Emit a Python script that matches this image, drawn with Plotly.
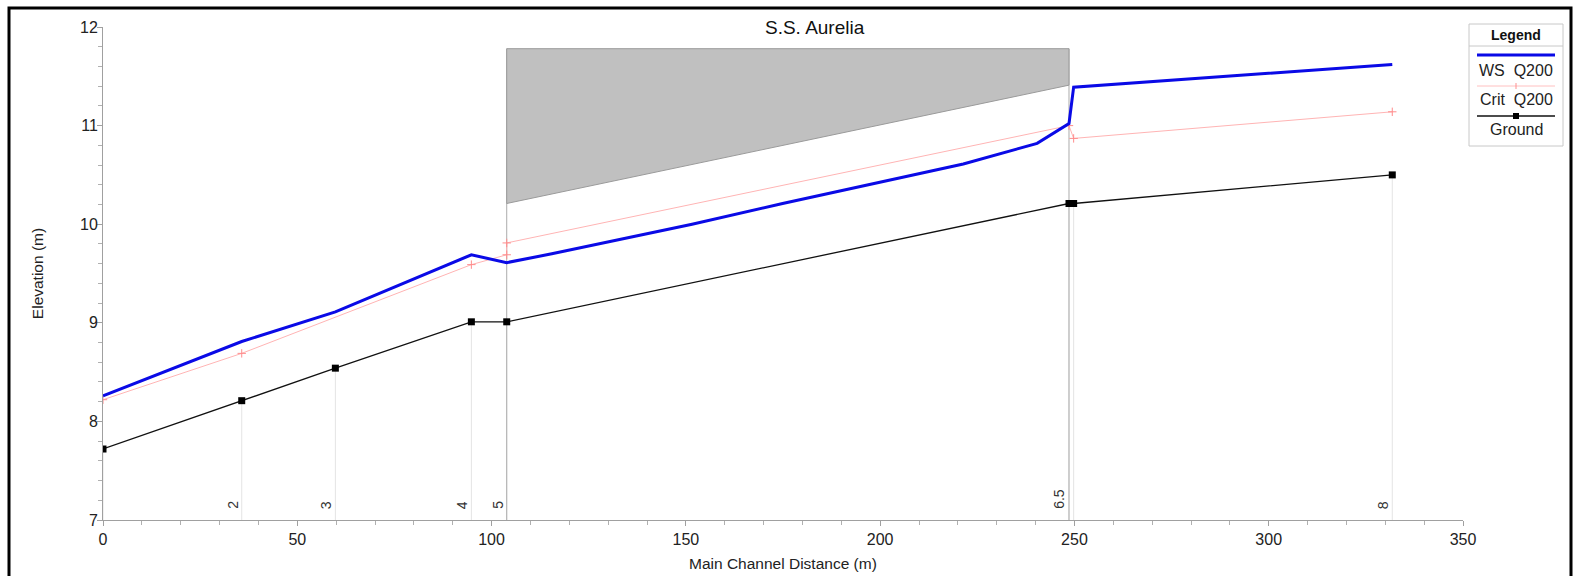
import plotly.graph_objects as go

# ---------------- data ----------------
ground_x = [0, 35.7, 59.8, 94.8, 103.9, 248.6, 249.8, 331.8]
ground_y = [7.72, 8.21, 8.54, 9.01, 9.01, 10.21, 10.21, 10.50]

ws_x = [0, 35.7, 59.8, 94.8, 103.9, 115.5, 151.6, 174.9, 221.4, 240.4, 248.6, 249.8, 331.8]
ws_y = [8.26, 8.81, 9.11, 9.69, 9.61, 9.70, 10.00, 10.21, 10.61, 10.82, 11.02, 11.39, 11.62]

crit_x = [0, 35.7, 94.8, 103.9, 103.9, 248.6, 249.8, 331.8]
crit_y = [8.22, 8.69, 9.59, 9.69, 9.81, 11.00, 10.87, 11.14]

bridge_x = [103.9, 248.6]
bridge_top = [11.78, 11.78]
bridge_low = [10.21, 11.41]

section_labels = ["2", "3", "4", "5", "6.5", "8"]
section_x = [35.7, 59.8, 94.8, 103.9, 248.3, 331.8]

title_text = "S.S. Aurelia"
x_title = "Main Channel Distance (m)"
y_title = "Elevation (m)"

# ---------------- layout geometry ----------------
# the page body margin is removed, so figure pixels == page pixels
FW, FH = 1574, 576
L, R, T, B = 103, 1463, 27, 520          # plot area in pixels
W, H = R - L, B - T


def px(xp):
    return (xp - L) / W


def py(yp):
    return (B - yp) / H


FONT = "Liberation Sans, Arial, sans-serif"

fig = go.Figure()

# faint section lines from axis to ground
vx, vy = [], []
for gx, gy in zip(ground_x, ground_y):
    vx += [gx, gx, None]
    vy += [7, gy, None]
fig.add_trace(go.Scatter(x=vx, y=vy, mode="lines",
                         line=dict(color="#e4e4e4", width=1),
                         hoverinfo="skip", showlegend=False))

# bridge abutment lines
ax_, ay_ = [], []
for bx, bt in zip(bridge_x, bridge_top):
    ax_ += [bx, bx, None]
    ay_ += [7, bt, None]
fig.add_trace(go.Scatter(x=ax_, y=ay_, mode="lines",
                         line=dict(color="#ababab", width=1),
                         hoverinfo="skip", showlegend=False))

# bridge deck polygon
fig.add_trace(go.Scatter(
    x=bridge_x + bridge_x[::-1] + [bridge_x[0]],
    y=bridge_top + bridge_low[::-1] + [bridge_top[0]],
    mode="lines", fill="toself", fillcolor="#c0c0c0",
    line=dict(color="#9a9a9a", width=1),
    hoverinfo="skip", showlegend=False))

# ground
fig.add_trace(go.Scatter(x=ground_x, y=ground_y, mode="lines+markers",
                         line=dict(color="#111111", width=1.3),
                         marker=dict(symbol="square", size=7, color="#000000"),
                         name="Ground", showlegend=False))

# critical
fig.add_trace(go.Scatter(x=crit_x, y=crit_y, mode="lines+markers",
                         line=dict(color="#ffb4b4", width=1),
                         marker=dict(symbol="cross-thin", size=6,
                                     line=dict(color="#ff8c8c", width=1)),
                         name="Crit  Q200", showlegend=False))

# water surface
fig.add_trace(go.Scatter(x=ws_x, y=ws_y, mode="lines",
                         line=dict(color="#0a0ae6", width=3),
                         name="WS  Q200", showlegend=False))

annotations = []
# section labels
for lab, sx in zip(section_labels, section_x):
    annotations.append(dict(x=sx, y=7, xref="x", yref="y", text=lab,
                            showarrow=False, textangle=-90,
                            xanchor="right", yanchor="bottom",
                            xshift=1, yshift=9,
                            font=dict(family=FONT, size=14, color="#333333")))

# title
annotations.append(dict(x=px(815), y=py(27), xref="paper", yref="paper",
                        text=title_text, showarrow=False,
                        xanchor="center", yanchor="middle",
                        font=dict(family=FONT, size=19, color="#111111")))

# x-axis title
annotations.append(dict(x=px(783), y=py(563), xref="paper", yref="paper",
                        text=x_title, showarrow=False,
                        xanchor="center", yanchor="middle",
                        font=dict(family=FONT, size=15.5, color="#222222")))

shapes = []
# legend box
lx0, lx1, ly0, ly1 = 1469, 1563, 24, 146
lc = (lx0 + lx1) / 2
shapes.append(dict(type="rect", xref="paper", yref="paper",
                   x0=px(lx0), x1=px(lx1), y0=py(ly1), y1=py(ly0),
                   line=dict(color="#c8c8c8", width=1), fillcolor="white"))
shapes.append(dict(type="line", xref="paper", yref="paper",
                   x0=px(lx0), x1=px(lx1), y0=py(46), y1=py(46),
                   line=dict(color="#c8c8c8", width=1)))
annotations.append(dict(x=px(lc), y=py(35), xref="paper", yref="paper",
                        text="<b>Legend</b>", showarrow=False,
                        xanchor="center", yanchor="middle",
                        font=dict(family=FONT, size=14, color="#111111")))
# WS sample
shapes.append(dict(type="line", xref="paper", yref="paper",
                   x0=px(lx0 + 8), x1=px(lx1 - 8), y0=py(55), y1=py(55),
                   line=dict(color="#0a0ae6", width=3)))
annotations.append(dict(x=px(lc), y=py(70), xref="paper", yref="paper",
                        text="WS  Q200", showarrow=False,
                        xanchor="center", yanchor="middle",
                        font=dict(family=FONT, size=16, color="#222222")))
# Crit sample
shapes.append(dict(type="line", xref="paper", yref="paper",
                   x0=px(lx0 + 8), x1=px(lx1 - 8), y0=py(86), y1=py(86),
                   line=dict(color="#ffc0c0", width=1)))
shapes.append(dict(type="line", xref="paper", yref="paper",
                   x0=px(lc), x1=px(lc), y0=py(83), y1=py(89),
                   line=dict(color="#ff9090", width=1)))
annotations.append(dict(x=px(lc), y=py(100), xref="paper", yref="paper",
                        text="Crit  Q200", showarrow=False,
                        xanchor="center", yanchor="middle",
                        font=dict(family=FONT, size=16, color="#222222")))
# Ground sample
shapes.append(dict(type="line", xref="paper", yref="paper",
                   x0=px(lx0 + 8), x1=px(lx1 - 8), y0=py(116), y1=py(116),
                   line=dict(color="#111111", width=1.3)))
shapes.append(dict(type="rect", xref="paper", yref="paper",
                   x0=px(lc - 3), x1=px(lc + 3), y0=py(119), y1=py(113),
                   line=dict(color="#000000", width=0), fillcolor="#000000"))
annotations.append(dict(x=px(lc), y=py(129), xref="paper", yref="paper",
                        text="Ground", showarrow=False,
                        xanchor="center", yanchor="middle",
                        font=dict(family=FONT, size=16, color="#222222")))

# outer frame
shapes.append(dict(type="rect", xref="paper", yref="paper",
                   x0=px(9), x1=px(1571), y0=py(600), y1=py(8),
                   line=dict(color="#000000", width=3), fillcolor="rgba(0,0,0,0)"))

fig.update_layout(
    width=FW, height=FH,
    margin=dict(l=L, r=FW - R, t=T, b=FH - B, autoexpand=False),
    paper_bgcolor="white", plot_bgcolor="white",
    font=dict(family=FONT, color="#333333"),
    showlegend=False,
    annotations=annotations,
    shapes=shapes,
    xaxis=dict(range=[0, 350], tickmode="linear", tick0=0, dtick=50,
               showgrid=False, zeroline=False, showline=True,
               linecolor="#a0a0a0", linewidth=1,
               ticks="outside", ticklen=5, tickcolor="#a0a0a0",
               minor=dict(dtick=10, ticks="outside", ticklen=4, tickcolor="#b0b0b0"),
               tickfont=dict(family=FONT, size=16, color="#222222")),
    yaxis=dict(range=[7, 12], tickmode="linear", tick0=7, dtick=1,
               showgrid=False, zeroline=False, showline=True,
               linecolor="#a0a0a0", linewidth=1,
               ticks="outside", ticklen=5, tickcolor="#a0a0a0",
               ticklabelstandoff=-4,
               minor=dict(dtick=0.2, ticks="outside", ticklen=4, tickcolor="#b0b0b0"),
               tickfont=dict(family=FONT, size=16, color="#222222"),
               title=dict(text=y_title, font=dict(family=FONT, size=15.5, color="#222222"),
                          standoff=32)),
)

fig.write_html("out.html",
               config={"displayModeBar": False},
               post_script="document.body.style.margin='0';document.body.style.overflow='hidden';")
